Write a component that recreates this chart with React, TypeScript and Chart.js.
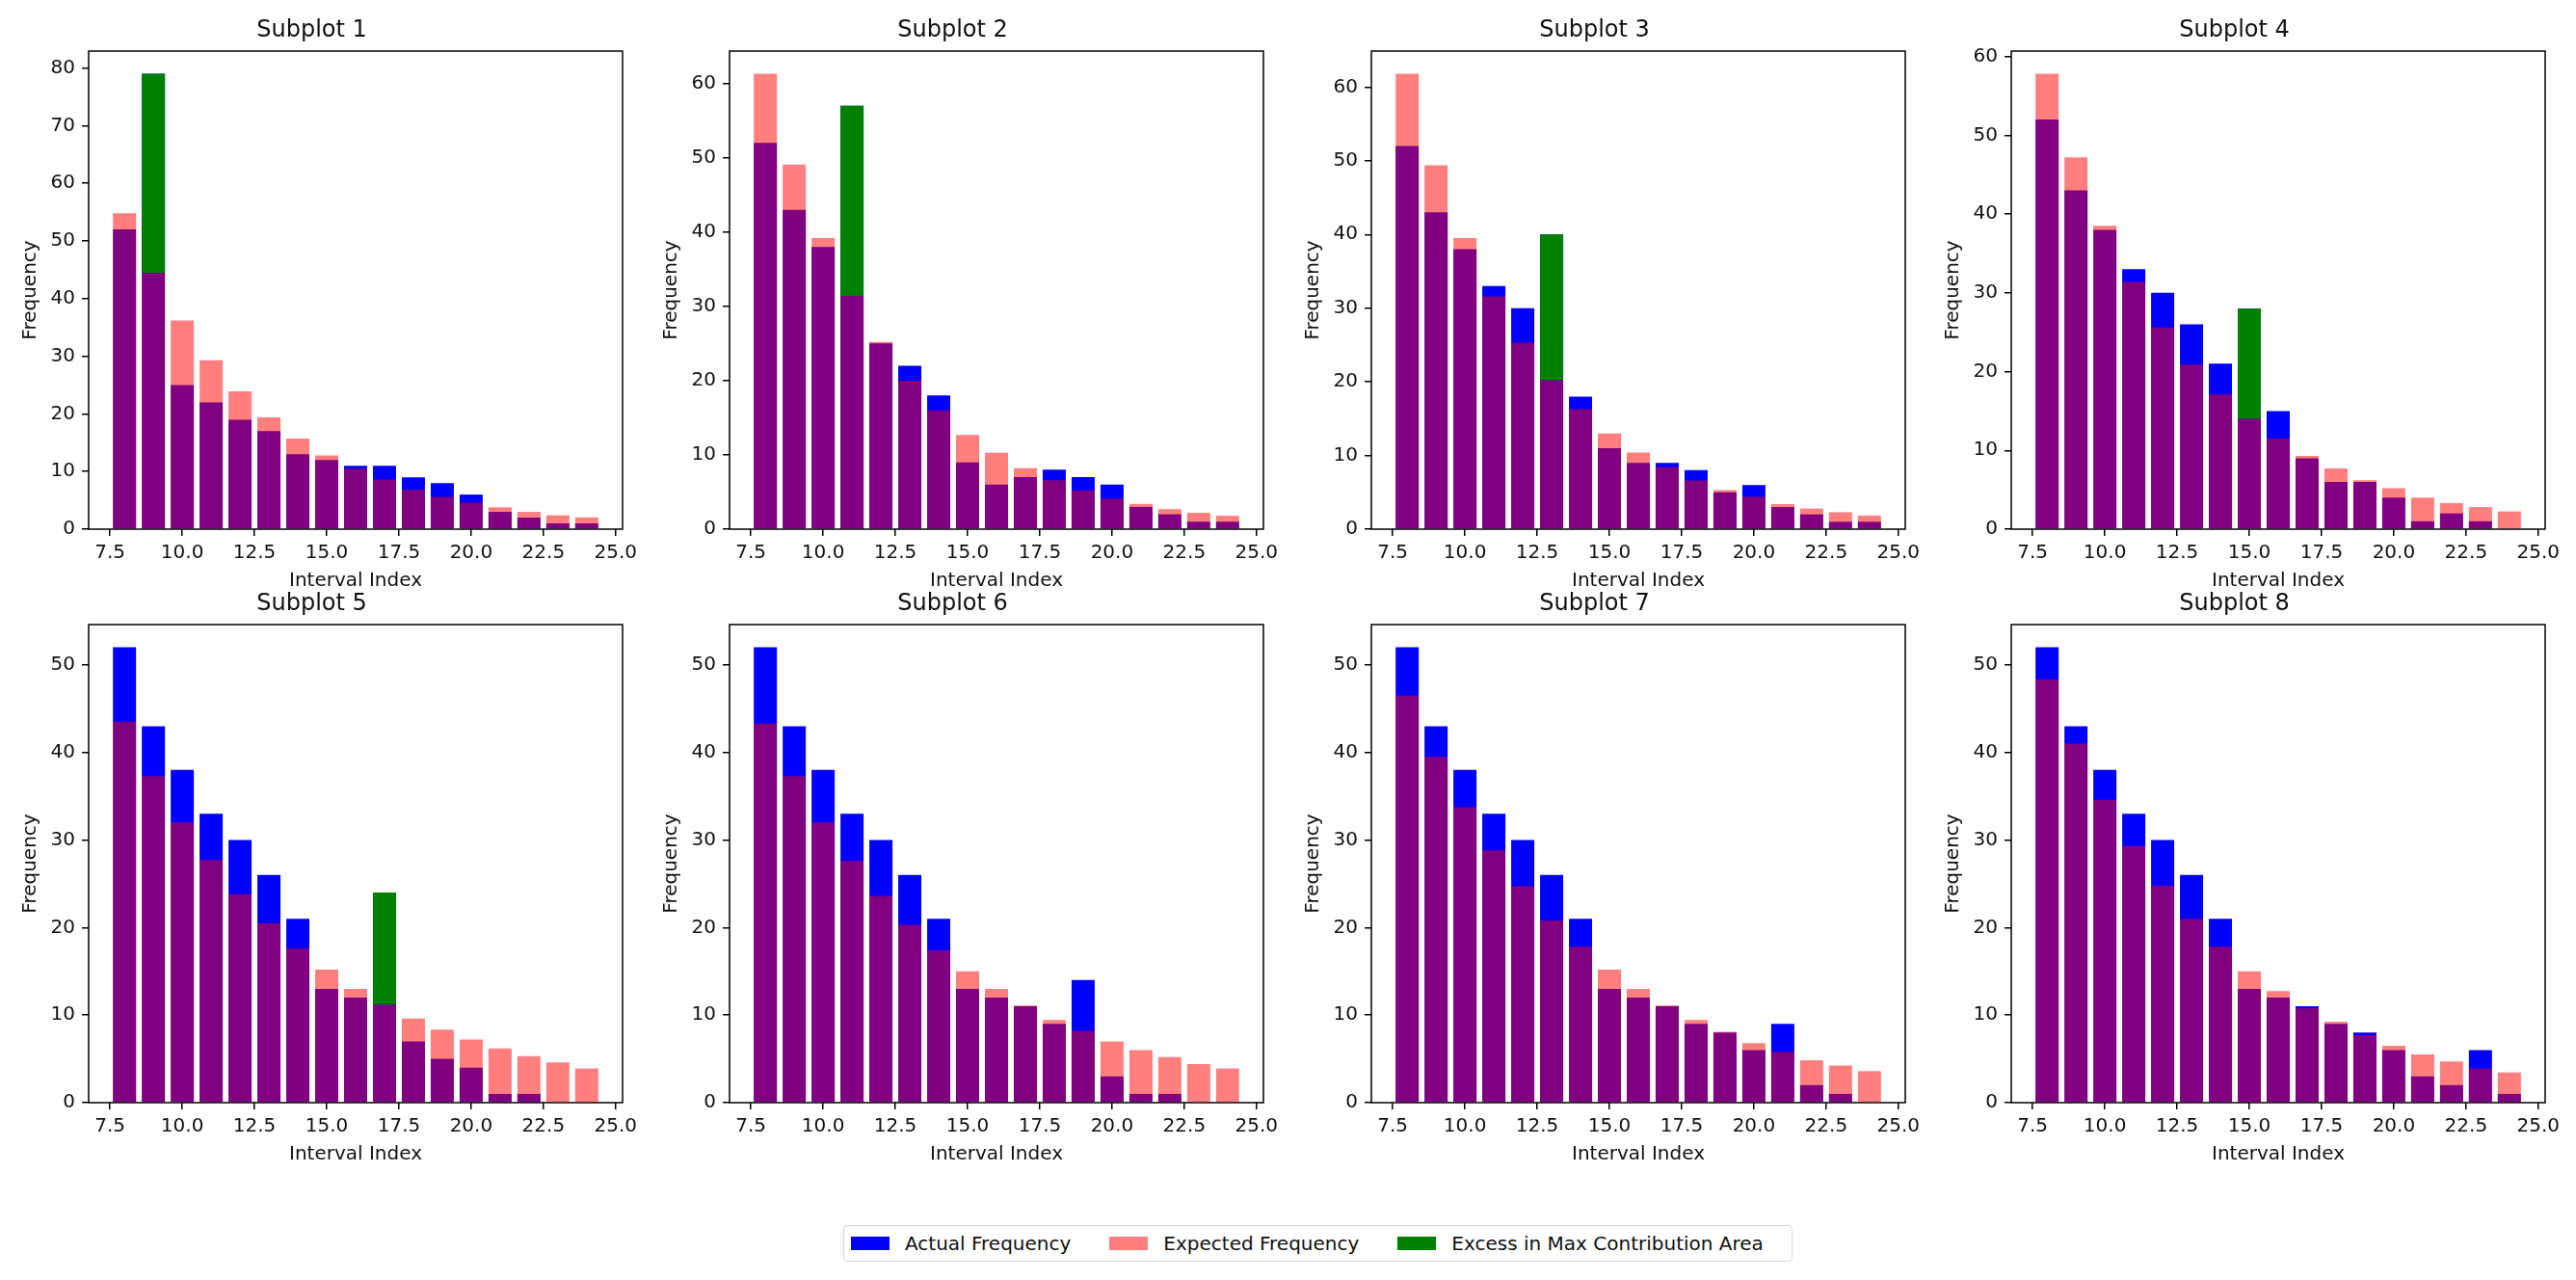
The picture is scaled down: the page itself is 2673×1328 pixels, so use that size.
import React, { useEffect, useRef } from 'react';
import { Chart, registerables } from 'chart.js';

Chart.register(...registerables);

// ---------------- data ----------------
const INTERVALS = [8, 9, 10, 11, 12, 13, 14, 15, 16, 17, 18, 19, 20, 21, 22, 23, 24];
const X_TICKS = [7.5, 10, 12.5, 15, 17.5, 20, 22.5, 25];
const Y_STEP = 10;
const TITLES = ['Subplot 1', 'Subplot 2', 'Subplot 3', 'Subplot 4', 'Subplot 5', 'Subplot 6', 'Subplot 7', 'Subplot 8'];

const ACTUAL_1 = [52, 79, 25, 22, 19, 17, 13, 12, 11, 11, 9, 8, 6, 3, 2, 1, 1];
const EXPECTED_1 = [54.8, 44.5, 36.2, 29.3, 23.9, 19.4, 15.7, 12.8, 10.5, 8.6, 6.8, 5.6, 4.6, 3.8, 3.0, 2.4, 2.05];
const ACTUAL_2 = [52, 43, 38, 57, 25, 22, 18, 9, 6, 7, 8, 7, 6, 3, 2, 1, 1];
const EXPECTED_2 = [61.3, 49.1, 39.2, 31.4, 25.2, 20.0, 16.0, 12.7, 10.3, 8.2, 6.6, 5.2, 4.1, 3.4, 2.7, 2.2, 1.8];
const ACTUAL_3 = [52, 43, 38, 33, 30, 40, 18, 11, 9, 9, 8, 5, 6, 3, 2, 1, 1];
const EXPECTED_3 = [61.8, 49.4, 39.5, 31.6, 25.3, 20.2, 16.3, 13.0, 10.4, 8.4, 6.6, 5.3, 4.4, 3.4, 2.8, 2.3, 1.85];
const ACTUAL_4 = [52, 43, 38, 33, 30, 26, 21, 28, 15, 9, 6, 6, 4, 1, 2, 1, 0];
const EXPECTED_4 = [57.8, 47.2, 38.5, 31.4, 25.6, 20.9, 17.1, 14.0, 11.5, 9.3, 7.7, 6.2, 5.2, 4.0, 3.3, 2.8, 2.25];
const ACTUAL_5 = [52, 43, 38, 33, 30, 26, 21, 13, 12, 24, 7, 5, 4, 1, 1, 0, 0];
const EXPECTED_5 = [43.5, 37.3, 32.0, 27.7, 23.8, 20.5, 17.6, 15.2, 13.0, 11.2, 9.6, 8.35, 7.2, 6.2, 5.3, 4.6, 3.9];
const ACTUAL_6 = [52, 43, 38, 33, 30, 26, 21, 13, 12, 11, 9, 14, 3, 1, 1, 0, 0];
const EXPECTED_6 = [43.3, 37.3, 32.0, 27.6, 23.6, 20.3, 17.4, 15.0, 13.0, 11.1, 9.45, 8.2, 7.0, 6.0, 5.2, 4.4, 3.9];
const ACTUAL_7 = [52, 43, 38, 33, 30, 26, 21, 13, 12, 11, 9, 8, 6, 9, 2, 1, 0];
const EXPECTED_7 = [46.5, 39.5, 33.75, 28.8, 24.7, 20.8, 17.8, 15.2, 13.0, 11.1, 9.45, 8.1, 6.8, 5.8, 4.85, 4.25, 3.6];
const ACTUAL_8 = [52, 43, 38, 33, 30, 26, 21, 13, 12, 11, 9, 8, 6, 3, 2, 6, 1];
const EXPECTED_8 = [48.35, 41.0, 34.6, 29.3, 24.8, 21.0, 17.8, 15.0, 12.75, 10.8, 9.25, 7.7, 6.5, 5.5, 4.7, 3.9, 3.45];

// interval index of the "max contribution area" per subplot (null = none)
const EXCESS_AT = [9, 11, 13, 15, 17, null, null, null];

const LEGEND_LABELS = ['Actual Frequency', 'Expected Frequency', 'Excess in Max Contribution Area'];

const ACTUALS = [ACTUAL_1, ACTUAL_2, ACTUAL_3, ACTUAL_4, ACTUAL_5, ACTUAL_6, ACTUAL_7, ACTUAL_8];
const EXPECTEDS = [EXPECTED_1, EXPECTED_2, EXPECTED_3, EXPECTED_4, EXPECTED_5, EXPECTED_6, EXPECTED_7, EXPECTED_8];

// ---------------- styles / layout ----------------
const FONT = '"DejaVu Sans", sans-serif';
const TEXT = '#111';
const BLUE = '#0000ff';
const RED = 'rgba(255,0,0,0.5)';
const GREEN = '#008000';

const CANVAS_W = 670;
const CANVAS_H = 619;
const COL_LEFT = [1, 666, 1332, 1996];
const ROW_TOP = [0, 595];

const framePlugin = {
  id: 'frame',
  afterDatasetsDraw(chart: any) {
    const { ctx, chartArea } = chart;
    const { left, top, right, bottom } = chartArea;
    ctx.save();
    ctx.strokeStyle = '#000';
    ctx.lineWidth = 1.5;
    ctx.strokeRect(left, top, right - left, bottom - top);
    ctx.restore();
  },
};

function Subplot({ i }: { i: number }) {
  const ref = useRef<HTMLCanvasElement>(null);
  useEffect(() => {
    if (!ref.current) return;
    const actual = ACTUALS[i];
    const expected = EXPECTEDS[i];
    const ex = EXCESS_AT[i];
    const excessData: any[] = [];
    if (ex !== null) {
      const k = INTERVALS.indexOf(ex as number);
      excessData.push({ x: ex, y: [expected[k], actual[k]] });
    }
    const dataMax = Math.max(...actual, ...expected);
    const lo = Math.min(...INTERVALS) - 0.4;
    const hi = Math.max(...INTERVALS) + 0.4;
    const m = 0.05 * (hi - lo);
    const barCommon = {
      grouped: false,
      categoryPercentage: 1,
      barPercentage: 0.8,
      borderWidth: 0,
    };
    const tickFont = { family: FONT, size: 20 };
    const gridOpts = {
      display: true,
      drawOnChartArea: false,
      drawTicks: true,
      tickLength: 7,
      color: '#000',
      lineWidth: 1.5,
      offset: false,
    };
    const chart = new Chart(ref.current, {
      type: 'bar',
      data: {
        datasets: [
          {
            label: LEGEND_LABELS[0],
            data: INTERVALS.map((x, k) => ({ x, y: actual[k] })),
            backgroundColor: BLUE,
            order: 3,
            ...barCommon,
          },
          {
            label: LEGEND_LABELS[1],
            data: INTERVALS.map((x, k) => ({ x, y: expected[k] })),
            backgroundColor: RED,
            order: 2,
            ...barCommon,
          },
          {
            label: LEGEND_LABELS[2],
            data: excessData,
            backgroundColor: GREEN,
            order: 1,
            ...barCommon,
          },
        ],
      } as any,
      options: {
        animation: false,
        responsive: false,
        layout: { padding: { left: 0, right: 25, top: 0, bottom: 0 } },
        plugins: {
          legend: { display: false },
          tooltip: { enabled: false },
          title: {
            display: true,
            text: TITLES[i],
            color: TEXT,
            font: { family: FONT, size: 24, weight: 'normal', lineHeight: 1.2 },
            padding: { top: 17.2, bottom: 7 },
          },
        },
        scales: {
          x: {
            type: 'linear',
            min: lo - m,
            max: hi + m,
            offset: false,
            grid: gridOpts,
            border: { display: false },
            ticks: {
              font: tickFont,
              color: TEXT,
              padding: 5.5,
              maxRotation: 0,
              autoSkip: false,
              callback: (v: any) => Number(v).toFixed(1),
            },
            title: {
              display: true,
              text: 'Interval Index',
              color: TEXT,
              font: { family: FONT, size: 20, lineHeight: 1.2 },
              padding: { top: 0, bottom: 4.5 },
            },
            afterBuildTicks: (axis: any) => {
              axis.ticks = X_TICKS.map((v) => ({ value: v }));
            },
            afterFit: (axis: any) => {
              axis.height = 70;
            },
          },
          y: {
            type: 'linear',
            min: 0,
            max: dataMax * 1.05,
            grid: gridOpts,
            border: { display: false },
            ticks: {
              stepSize: Y_STEP,
              includeBounds: false,
              font: tickFont,
              color: TEXT,
              padding: 7,
            },
            title: {
              display: true,
              text: 'Frequency',
              color: TEXT,
              font: { family: FONT, size: 20, lineHeight: 1.2 },
              padding: { top: 18.8, bottom: 0 },
            },
            afterBuildTicks: (axis: any) => {
              axis.ticks = axis.ticks.filter(
                (t: any) => Math.abs(t.value / Y_STEP - Math.round(t.value / Y_STEP)) < 1e-9
              );
            },
            afterFit: (axis: any) => {
              axis.width = 91;
            },
          },
        },
      } as any,
      plugins: [framePlugin],
    });
    return () => chart.destroy();
  }, [i]);

  const col = i % 4;
  const row = Math.floor(i / 4);
  return (
    <canvas
      ref={ref}
      width={CANVAS_W}
      height={CANVAS_H}
      style={{
        position: 'absolute',
        left: COL_LEFT[col],
        top: ROW_TOP[row],
        width: CANVAS_W,
        height: CANVAS_H,
      }}
    />
  );
}

const LEGEND_COLORS = [BLUE, RED, GREEN];

export default function App() {
  return (
    <div
      style={{
        position: 'absolute',
        left: 0,
        top: 0,
        width: 2673,
        height: 1328,
        background: '#fff',
        overflow: 'hidden',
      }}
    >
      {TITLES.map((_, i) => (
        <Subplot key={i} i={i} />
      ))}
      <div
        style={{
          position: 'absolute',
          left: 875,
          top: 1271,
          width: 985,
          height: 38,
          boxSizing: 'border-box',
          border: '1.5px solid #d6d6d6',
          borderRadius: 4,
          background: '#fff',
          display: 'flex',
          alignItems: 'center',
          paddingLeft: 7,
          fontFamily: FONT,
          fontSize: 20,
          color: TEXT,
        }}
      >
        {LEGEND_LABELS.map((label, k) => (
          <div
            key={label}
            style={{ display: 'flex', alignItems: 'center', marginRight: k < 2 ? 40 : 0 }}
          >
            <span
              style={{
                display: 'inline-block',
                width: 40,
                height: 14,
                background: LEGEND_COLORS[k],
                marginRight: 16,
              }}
            />
            <span style={{ whiteSpace: 'nowrap' }}>{label}</span>
          </div>
        ))}
      </div>
    </div>
  );
}
